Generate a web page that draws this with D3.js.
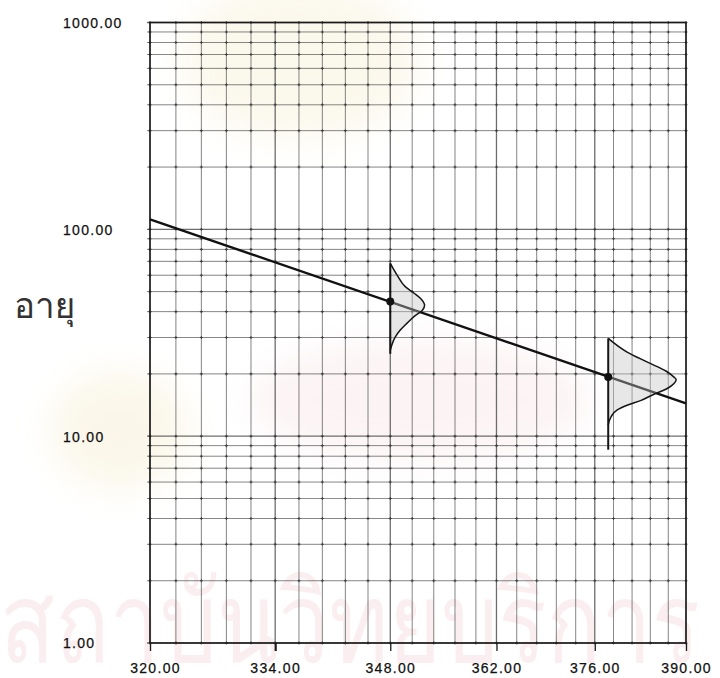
<!DOCTYPE html>
<html>
<head>
<meta charset="utf-8">
<script src="https://cdn.jsdelivr.net/npm/d3@7/dist/d3.min.js"></script>
<style>
  body { margin: 0; background: #ffffff; }
  svg { display: block; }
  .num { font-family: "Liberation Sans", Arial, sans-serif; font-size: 14px; letter-spacing: 1.3px; fill: #111; stroke: #111; stroke-width: 0.25px; }
</style>
</head>
<body>
<svg id="chart" width="720" height="678"></svg>
<script>
// Arrhenius life plot: life on a log scale against temperature on a reciprocal (1/T) scale.

// Temperature axis (K): labelled ticks and the finer grid divisions
const tempTicks = [320, 334, 348, 362, 376, 390];
const tempGrid = [320, 322.8, 325.6, 328.4, 331.2, 334, 336.8, 339.6, 342.4, 345.2,
                  348, 350.8, 353.6, 356.4, 359.2, 362, 364.8, 367.6, 370.4, 373.2,
                  376, 378.8, 381.6, 384.4, 387.2, 390];

// Life axis: labelled decades and the 1..9 log-cycle grid
const lifeTicks = [1, 10, 100, 1000];
const lifeGrid = [1, 2, 3, 4, 5, 6, 7, 8, 9,
                  10, 20, 30, 40, 50, 60, 70, 80, 90,
                  100, 200, 300, 400, 500, 600, 700, 800, 900, 1000];

// Fitted life-stress line (end points)
const fitTemps = [320, 390];
const fitLife = [111.7, 14.4];

// Test stress levels and their characteristic life
const testTemps = [348, 378];
const testLife = [44.8, 19.3];

// Life distribution drawn sideways at each stress level
const pdfLifeA = [68.5, 59.9, 53.0, 49.1, 46.4, 42.9, 40.6, 38.4, 35.2, 32.5, 30.1, 28.1, 26.0];
const pdfDensA = [0, 0.010, 0.021, 0.034, 0.043, 0.049, 0.046, 0.036, 0.024, 0.014, 0.007, 0.003, 0];
const pdfLifeB = [29.7, 25.5, 22.8, 20.6, 19.3, 18.8, 17.6, 16.9, 16.0, 14.9, 14.1, 13.4, 12.4, 11.3];
const pdfDensB = [0, 0.027, 0.056, 0.083, 0.094, 0.097, 0.091, 0.083, 0.066, 0.047, 0.027, 0.013, 0.004, 0];
// Extent of the base line under each distribution
const baseLifeA = [68.5, 25.0];
const baseLifeB = [29.7, 8.6];

const yTitle = "อายุ";
const watermarkText = "สถาบันวิทยบริการ";
const thaiFonts = "'Waree', 'Garuda', 'Loma', 'Norasi', 'Noto Sans Thai Looped', 'Noto Sans Thai', 'Noto Sans', sans-serif";

const svg = d3.select("#chart");
const plotL = 150, plotR = 686, plotT = 22.5, plotB = 643;

// x: linear in 1/T, so temperature ticks fall on a reciprocal spacing
const invX = d3.scaleLinear().domain([1 / 320, 1 / 390]).range([plotL, plotR]);
const x = t => invX(1 / t);
const y = d3.scaleLog().domain([1, 1000]).range([plotB, plotT]);
const pdfW = d3.scaleLinear().domain([0, 0.1]).range([0, 70]);

// ---- faint background watermark ----
const defs = svg.append("defs");
defs.append("filter").attr("id", "soft").attr("x", "-50%").attr("y", "-50%").attr("width", "200%").attr("height", "200%")
  .append("feGaussianBlur").attr("stdDeviation", 16);

const wm = svg.append("g").attr("class", "watermark");
wm.append("ellipse").attr("cx", 300).attr("cy", 60).attr("rx", 120).attr("ry", 80)
  .attr("fill", "#f7f0d6").attr("opacity", 0.45).attr("filter", "url(#soft)");
wm.append("ellipse").attr("cx", 120).attr("cy", 430).attr("rx", 70).attr("ry", 60)
  .attr("fill", "#f7f0d6").attr("opacity", 0.5).attr("filter", "url(#soft)");
wm.append("ellipse").attr("cx", 420).attr("cy", 400).attr("rx", 170).attr("ry", 60)
  .attr("fill", "#f8e6e8").attr("opacity", 0.45).attr("filter", "url(#soft)");
wm.append("text")
  .attr("x", 0).attr("y", 662)
  .attr("textLength", 700).attr("lengthAdjust", "spacingAndGlyphs")
  .attr("font-family", thaiFonts)
  .attr("font-size", 112)
  .attr("fill", "#faeef0")
  .text(watermarkText);

// ---- grid ----
const grid = svg.append("g").attr("class", "grid");
grid.selectAll("line.v").data(tempGrid).join("line")
  .attr("class", "v")
  .attr("x1", d => x(d)).attr("x2", d => x(d))
  .attr("y1", plotT).attr("y2", plotB)
  .attr("stroke", "#4a4a4a")
  .attr("stroke-width", d => tempTicks.includes(d) ? 1.3 : 0.85)
  .attr("opacity", 0.8);

grid.selectAll("line.h").data(lifeGrid).join("line")
  .attr("class", "h")
  .attr("x1", plotL - 3).attr("x2", plotR)
  .attr("y1", d => y(d)).attr("y2", d => y(d))
  .attr("stroke", "#4a4a4a")
  .attr("stroke-width", d => lifeTicks.includes(d) ? 1.4 : 0.85)
  .attr("opacity", 0.8);

// small crosses at every grid intersection
const cross = d3.path();
tempGrid.forEach(t => {
  lifeGrid.forEach(l => {
    const cx = x(t), cy = y(l);
    cross.moveTo(cx - 1.5, cy); cross.lineTo(cx + 1.5, cy);
    cross.moveTo(cx, cy - 1.5); cross.lineTo(cx, cy + 1.5);
  });
});
grid.append("path").attr("d", cross.toString())
  .attr("stroke", "#333").attr("stroke-width", 1.1).attr("fill", "none").attr("opacity", 0.8);

// frame
svg.append("rect")
  .attr("x", plotL).attr("y", plotT).attr("width", plotR - plotL).attr("height", plotB - plotT)
  .attr("fill", "none").attr("stroke", "#1a1a1a").attr("stroke-width", 1.5);

// ---- axes ----
const xAxis = svg.append("g")
  .attr("class", "x-axis")
  .attr("transform", `translate(0,${plotB})`)
  .call(d3.axisBottom(invX)
    .tickValues(tempTicks.map(t => 1 / t))
    .tickFormat(v => d3.format(".2f")(Math.round(1 / v)))
    .tickSizeInner(8).tickSizeOuter(0).tickPadding(12));
xAxis.select(".domain").remove();
xAxis.selectAll(".tick line")
  .attr("stroke", "#1a1a1a")
  .attr("stroke-width", (d) => Math.round(1 / d) === 334 ? 2.2 : 1.3);
xAxis.selectAll(".tick text")
  .attr("class", "num")
  .attr("font-size", null).attr("font-family", null).attr("fill", null)
  .attr("dx", d => Math.round(1 / d) === 320 ? 5 : 0);

const yAxis = svg.append("g")
  .attr("class", "y-axis")
  .attr("transform", `translate(${plotL},0)`)
  .call(d3.axisLeft(y).tickValues(lifeTicks).tickFormat(d3.format(".2f")).tickSize(0));
yAxis.select(".domain").remove();
yAxis.selectAll(".tick text")
  .attr("class", "num")
  .attr("font-size", null).attr("font-family", null).attr("fill", null)
  .attr("text-anchor", "start")
  .attr("x", 63 - plotL)
  .attr("dy", "0.35em");

svg.append("text")
  .attr("x", 14).attr("y", 318)
  .attr("font-family", thaiFonts)
  .attr("font-size", 35)
  .attr("font-weight", "normal")
  .attr("fill", "#333")
  .text(yTitle);

// ---- fitted line ----
const fit = fitTemps.map((t, i) => [t, fitLife[i]]);
svg.append("path")
  .datum(fit)
  .attr("d", d3.line().x(d => x(d[0])).y(d => y(d[1])))
  .attr("fill", "none").attr("stroke", "#111").attr("stroke-width", 2.4);

// ---- life distributions ----
function drawPdf(temp, lifeArr, densArr, baseArr) {
  const pts = lifeArr.map((l, i) => ({ l, d: densArr[i] }));
  const x0 = x(temp);
  const area = d3.area()
    .y(d => y(d.l))
    .x0(x0)
    .x1(d => x0 + pdfW(d.d))
    .curve(d3.curveMonotoneY);
  svg.append("path").datum(pts).attr("d", area)
    .attr("fill", "#c4c4c4").attr("opacity", 0.4);
  svg.append("path").datum(pts)
    .attr("d", d3.line().y(d => y(d.l)).x(d => x0 + pdfW(d.d)).curve(d3.curveMonotoneY))
    .attr("fill", "none").attr("stroke", "#151515").attr("stroke-width", 1.5);
  svg.append("line")
    .attr("x1", x0).attr("x2", x0)
    .attr("y1", y(baseArr[0])).attr("y2", y(baseArr[1]))
    .attr("stroke", "#151515").attr("stroke-width", 2);
}
drawPdf(testTemps[0], pdfLifeA, pdfDensA, baseLifeA);
drawPdf(testTemps[1], pdfLifeB, pdfDensB, baseLifeB);

// ---- test points ----
svg.selectAll("circle.pt").data(testTemps.map((t, i) => [t, testLife[i]])).join("circle")
  .attr("class", "pt")
  .attr("cx", d => x(d[0])).attr("cy", d => y(d[1]))
  .attr("r", 4).attr("fill", "#111");
</script>
</body>
</html>
